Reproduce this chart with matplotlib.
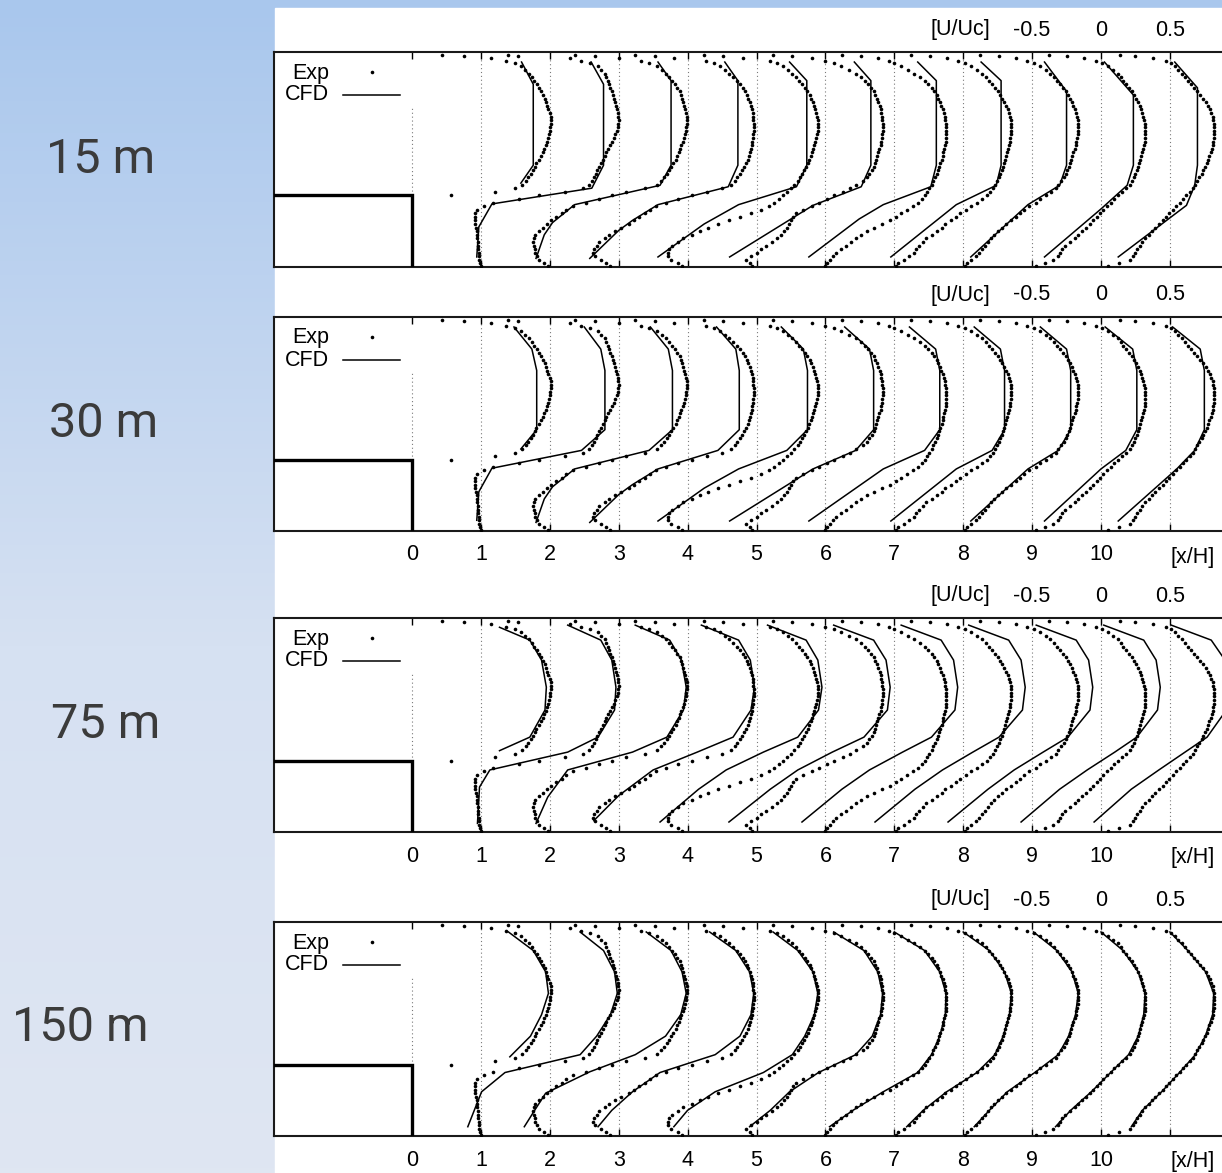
import numpy as np
import matplotlib.pyplot as plt
from matplotlib.patches import Rectangle

W, H = 1222, 1173

# ---- data -------------------------------------------------------------
grid_labels = ["15 m", "30 m", "75 m", "150 m"]
stations = list(range(11))          # profile positions x/H
x_ticks = list(range(0, 11))
u_tick_labels = ["-0.5", "0", "0.5"]
u_tick_pos = [9, 10, 11]            # U/Uc = -0.5, 0, 0.5 around station 10
u_scale = 2.0                       # 0.5 U/Uc = 1 x/H

exp_heights = [0.02, 0.05, 0.10, 0.15, 0.20, 0.25, 0.30, 0.35, 0.40, 0.45,
               0.50, 0.55, 0.60, 0.65, 0.70, 0.75, 0.80, 0.85, 0.90, 0.95,
               1.00, 1.05, 1.10, 1.15, 1.20, 1.25, 1.30, 1.35, 1.40, 1.45,
               1.50, 1.55, 1.60, 1.65, 1.70, 1.75, 1.80, 1.85, 1.90, 1.95,
               2.00, 2.05, 2.10, 2.15, 2.20, 2.25, 2.30, 2.35, 2.40, 2.45,
               2.50, 2.55, 2.60, 2.65, 2.70, 2.75, 2.80, 2.85, 2.88, 2.91,
               2.94, 2.96]

N = None
exp_u_st0 = [N, N, N, N, N, N, N, N, N, N,
             N, N, N, N, N, N, N, N, N, N,
             0.28, 0.60, 0.75, 0.795, 0.825, 0.845, 0.862, 0.878, 0.89, 0.90,
             0.918, 0.935, 0.948, 0.96, 0.97, 0.978, 0.985, 0.995, 1.0, 1.005,
             1.01, 1.01, 1.008, 1.0, 0.99, 0.98, 0.973, 0.963, 0.95, 0.937,
             0.922, 0.905, 0.888, 0.868, 0.848, 0.82, 0.79, 0.745, 0.685, 0.57,
             0.38, 0.22]
exp_u_st1 = [0.0, -0.005, -0.012, -0.015, -0.015, -0.018, -0.02, -0.022, -0.025, -0.028,
             -0.03, -0.035, -0.04, -0.042, -0.042, -0.04, -0.03, 0.02, 0.09, 0.28,
             0.42, 0.61, 0.74, 0.785, 0.805, 0.82, 0.835, 0.845, 0.86, 0.872,
             0.885, 0.898, 0.91, 0.925, 0.94, 0.952, 0.965, 0.975, 0.985, 0.993,
             0.998, 1.0, 0.998, 0.993, 0.988, 0.98, 0.975, 0.968, 0.96, 0.95,
             0.94, 0.93, 0.92, 0.91, 0.90, 0.875, 0.85, 0.79, 0.73, 0.645,
             0.27, 0.195]
exp_u_st2 = [-0.015, -0.04, -0.08, -0.095, -0.105, -0.11, -0.115, -0.12, -0.115, -0.105,
             -0.08, -0.05, -0.02, 0.01, 0.045, 0.085, 0.12, 0.165, 0.26, 0.36,
             0.45, 0.555, 0.69, 0.775, 0.805, 0.83, 0.85, 0.865, 0.88, 0.895,
             0.915, 0.925, 0.935, 0.945, 0.955, 0.965, 0.975, 0.98, 0.988, 0.992,
             0.995, 0.995, 0.993, 0.99, 0.983, 0.975, 0.968, 0.96, 0.952, 0.942,
             0.925, 0.908, 0.89, 0.866, 0.845, 0.815, 0.78, 0.72, 0.66, 0.50,
             0.33, 0.18]
exp_u_st3 = [-0.065, -0.09, -0.13, -0.17, -0.19, -0.18, -0.16, -0.14, -0.10, -0.07,
             -0.03, 0.02, 0.075, 0.11, 0.15, 0.19, 0.23, 0.27, 0.34, 0.43,
             0.53, 0.64, 0.75, 0.815, 0.845, 0.862, 0.88, 0.895, 0.91, 0.925,
             0.937, 0.945, 0.952, 0.96, 0.965, 0.97, 0.975, 0.978, 0.98, 0.98,
             0.98, 0.978, 0.975, 0.972, 0.965, 0.958, 0.95, 0.94, 0.93, 0.918,
             0.90, 0.878, 0.855, 0.83, 0.80, 0.77, 0.735, 0.69, 0.635, 0.40,
             0.26, 0.12]
exp_u_st4 = [-0.04, -0.07, -0.12, -0.14, -0.145, -0.135, -0.11, -0.07, -0.03, 0.03,
             0.09, 0.15, 0.22, 0.30, 0.38, 0.46, 0.53, 0.59, 0.63, 0.665,
             0.69, 0.72, 0.75, 0.775, 0.80, 0.815, 0.83, 0.845, 0.86, 0.872,
             0.883, 0.893, 0.903, 0.912, 0.92, 0.928, 0.935, 0.94, 0.943, 0.945,
             0.945, 0.943, 0.94, 0.935, 0.928, 0.92, 0.91, 0.898, 0.885, 0.87,
             0.85, 0.83, 0.808, 0.785, 0.76, 0.73, 0.695, 0.65, 0.60, 0.40,
             0.26, 0.12]
exp_u_st5 = [-0.03, -0.05, -0.075, -0.04, 0.0, 0.03, 0.07, 0.11, 0.15, 0.18,
             0.20, 0.22, 0.235, 0.25, 0.265, 0.29, 0.34, 0.40, 0.455, 0.51,
             0.565, 0.63, 0.68, 0.725, 0.775, 0.805, 0.82, 0.838, 0.85, 0.86,
             0.868, 0.876, 0.884, 0.892, 0.90, 0.906, 0.91, 0.913, 0.915, 0.916,
             0.915, 0.913, 0.91, 0.905, 0.90, 0.893, 0.883, 0.872, 0.862, 0.85,
             0.83, 0.808, 0.785, 0.76, 0.72, 0.67, 0.61, 0.565, 0.50, 0.40,
             0.26, 0.12]
exp_u_st6 = [0.0, 0.015, 0.035, 0.055, 0.08, 0.11, 0.15, 0.185, 0.22, 0.26,
             0.30, 0.355, 0.41, 0.47, 0.51, 0.55, 0.59, 0.635, 0.675, 0.70,
             0.72, 0.74, 0.755, 0.77, 0.782, 0.795, 0.808, 0.818, 0.827, 0.835,
             0.843, 0.85, 0.857, 0.863, 0.868, 0.872, 0.874, 0.875, 0.875, 0.875,
             0.874, 0.871, 0.866, 0.86, 0.85, 0.84, 0.83, 0.82, 0.808, 0.79,
             0.77, 0.745, 0.72, 0.69, 0.645, 0.60, 0.545, 0.50, 0.46, 0.38,
             0.26, 0.12]
exp_u_st7 = [0.01, 0.025, 0.07, 0.11, 0.14, 0.16, 0.18, 0.205, 0.23, 0.275,
             0.31, 0.345, 0.37, 0.41, 0.445, 0.48, 0.52, 0.56, 0.60, 0.64,
             0.67, 0.695, 0.715, 0.73, 0.745, 0.757, 0.768, 0.778, 0.787, 0.796,
             0.805, 0.813, 0.82, 0.827, 0.833, 0.838, 0.843, 0.847, 0.85, 0.85,
             0.849, 0.846, 0.84, 0.832, 0.822, 0.81, 0.797, 0.783, 0.767, 0.75,
             0.73, 0.71, 0.687, 0.662, 0.635, 0.60, 0.56, 0.51, 0.46, 0.38,
             0.26, 0.12]
exp_u_st8 = [0.01, 0.03, 0.06, 0.09, 0.115, 0.14, 0.16, 0.18, 0.20, 0.225,
             0.255, 0.285, 0.31, 0.345, 0.38, 0.415, 0.44, 0.48, 0.525, 0.56,
             0.60, 0.64, 0.67, 0.69, 0.71, 0.728, 0.743, 0.755, 0.765, 0.775,
             0.784, 0.792, 0.80, 0.808, 0.815, 0.822, 0.828, 0.832, 0.835, 0.835,
             0.834, 0.831, 0.826, 0.82, 0.81, 0.80, 0.788, 0.775, 0.76, 0.743,
             0.725, 0.705, 0.684, 0.66, 0.632, 0.60, 0.56, 0.515, 0.465, 0.38,
             0.26, 0.12]
exp_u_st9 = [0.03, 0.09, 0.15, 0.185, 0.205, 0.22, 0.24, 0.275, 0.31, 0.335,
             0.365, 0.39, 0.42, 0.445, 0.47, 0.49, 0.515, 0.545, 0.57, 0.595,
             0.62, 0.65, 0.68, 0.71, 0.727, 0.74, 0.75, 0.762, 0.77, 0.778,
             0.786, 0.793, 0.80, 0.806, 0.812, 0.816, 0.818, 0.82, 0.82, 0.82,
             0.818, 0.815, 0.808, 0.80, 0.79, 0.78, 0.77, 0.757, 0.742, 0.725,
             0.705, 0.683, 0.662, 0.645, 0.625, 0.59, 0.55, 0.505, 0.465, 0.38,
             0.25, 0.12]
exp_u_st10 = [0.05, 0.13, 0.21, 0.23, 0.245, 0.262, 0.283, 0.30, 0.32, 0.345,
              0.37, 0.395, 0.42, 0.45, 0.475, 0.495, 0.52, 0.545, 0.57, 0.595,
              0.62, 0.645, 0.665, 0.685, 0.70, 0.713, 0.73, 0.742, 0.755, 0.767,
              0.777, 0.787, 0.795, 0.803, 0.81, 0.815, 0.818, 0.82, 0.82, 0.82,
              0.818, 0.815, 0.81, 0.80, 0.792, 0.78, 0.76, 0.74, 0.72, 0.70,
              0.672, 0.65, 0.63, 0.612, 0.585, 0.56, 0.535, 0.505, 0.47, 0.38,
              0.25, 0.14]
exp_u = [exp_u_st0, exp_u_st1, exp_u_st2, exp_u_st3, exp_u_st4, exp_u_st5,
         exp_u_st6, exp_u_st7, exp_u_st8, exp_u_st9, exp_u_st10]

# CFD polylines: heights and U/Uc per station
cfd15_y = [[1.17, 1.42, 2.55, 2.86],
           [0.14, 0.56, 0.88, 1.10, 1.42, 2.55, 2.86],
           [0.12, 0.45, 0.62, 0.87, 1.14, 1.42, 2.60, 2.86],
           [0.12, 0.51, 0.65, 0.87, 1.12, 1.42, 2.60, 2.86],
           [0.14, 0.60, 0.87, 1.12, 1.42, 2.60, 2.86],
           [0.14, 0.86, 1.12, 1.42, 2.60, 2.86],
           [0.14, 0.67, 0.87, 1.12, 1.42, 2.60, 2.86],
           [0.14, 0.87, 1.14, 1.42, 2.60, 2.86],
           [0.14, 0.87, 1.14, 1.42, 2.45, 2.86],
           [0.14, 0.81, 1.14, 1.42, 2.40, 2.86],
           [0.14, 0.86, 1.14, 1.42, 2.50, 2.86]]
cfd15_u = [[0.79, 0.88, 0.88, 0.795],
           [-0.03, -0.015, 0.08, 0.805, 0.89, 0.89, 0.80],
           [-0.10, -0.04, 0.02, 0.18, 0.80, 0.88, 0.88, 0.785],
           [-0.21, 0.0, 0.10, 0.285, 0.795, 0.865, 0.865, 0.77],
           [-0.215, 0.12, 0.37, 0.79, 0.865, 0.865, 0.74],
           [-0.195, 0.41, 0.76, 0.83, 0.83, 0.71],
           [-0.12, 0.245, 0.42, 0.765, 0.805, 0.805, 0.67],
           [-0.025, 0.45, 0.74, 0.775, 0.775, 0.63],
           [0.055, 0.47, 0.70, 0.75, 0.75, 0.59],
           [0.09, 0.50, 0.69, 0.735, 0.735, 0.525],
           [0.125, 0.62, 0.68, 0.70, 0.70, 0.535]]

cfd30_y = [[1.15, 1.42, 2.25, 2.55, 2.86],
           [0.15, 0.55, 0.88, 1.13, 1.42, 2.25, 2.55, 2.86],
           [0.12, 0.45, 0.62, 0.87, 1.13, 1.42, 2.25, 2.55, 2.86],
           [0.12, 0.51, 0.65, 0.87, 1.13, 1.42, 2.25, 2.55, 2.86],
           [0.14, 0.60, 0.87, 1.13, 1.42, 2.25, 2.55, 2.86],
           [0.14, 0.87, 1.13, 1.42, 2.25, 2.55, 2.86],
           [0.14, 0.87, 1.13, 1.42, 2.25, 2.55, 2.86],
           [0.14, 0.87, 1.13, 1.42, 2.25, 2.55, 2.86],
           [0.14, 0.87, 1.13, 1.42, 2.25, 2.55, 2.86],
           [0.14, 0.87, 1.13, 1.42, 2.25, 2.55, 2.86],
           [0.14, 0.87, 1.13, 1.42, 2.25, 2.55, 2.86]]
cfd30_u = [[0.79, 0.905, 0.905, 0.87, 0.74],
           [-0.03, -0.015, 0.08, 0.73, 0.90, 0.90, 0.87, 0.75],
           [-0.10, -0.04, 0.02, 0.18, 0.72, 0.89, 0.89, 0.86, 0.73],
           [-0.21, 0.0, 0.10, 0.285, 0.72, 0.875, 0.875, 0.85, 0.71],
           [-0.215, 0.12, 0.37, 0.72, 0.87, 0.87, 0.84, 0.68],
           [-0.195, 0.41, 0.72, 0.85, 0.85, 0.82, 0.64],
           [-0.12, 0.42, 0.72, 0.83, 0.83, 0.80, 0.61],
           [-0.025, 0.45, 0.71, 0.80, 0.80, 0.77, 0.58],
           [0.055, 0.47, 0.69, 0.78, 0.78, 0.75, 0.56],
           [0.09, 0.50, 0.68, 0.76, 0.76, 0.73, 0.53],
           [0.125, 0.55, 0.68, 0.75, 0.75, 0.72, 0.52]]

cfd75_y = [[1.14, 1.33, 1.71, 2.03, 2.41, 2.69, 2.87],
           [0.12, 0.63, 0.87, 1.12, 1.33, 1.71, 2.03, 2.41, 2.69, 2.90],
           [0.12, 0.49, 0.87, 1.12, 1.33, 1.71, 2.03, 2.41, 2.69, 2.90],
           [0.16, 0.51, 0.87, 1.12, 1.33, 1.71, 2.03, 2.41, 2.69, 2.90],
           [0.14, 0.60, 0.87, 1.12, 1.33, 1.71, 2.03, 2.41, 2.69, 2.90],
           [0.14, 0.60, 0.87, 1.12, 1.33, 1.71, 2.03, 2.41, 2.69, 2.90],
           [0.14, 0.60, 0.87, 1.12, 1.33, 1.71, 2.03, 2.41, 2.69, 2.90],
           [0.14, 0.60, 0.87, 1.12, 1.33, 1.71, 2.03, 2.41, 2.69, 2.90],
           [0.14, 0.60, 0.87, 1.12, 1.33, 1.71, 2.03, 2.41, 2.69, 2.90],
           [0.14, 0.60, 0.87, 1.12, 1.33, 1.71, 2.03, 2.41, 2.69, 2.90],
           [0.14, 0.60, 0.87, 1.12, 1.33, 1.71, 2.03, 2.41, 2.69, 2.90]]
cfd75_u = [[0.635, 0.855, 0.965, 0.975, 0.94, 0.855, 0.635],
           [-0.025, -0.01, 0.065, 0.63, 0.85, 0.97, 0.98, 0.95, 0.87, 0.63],
           [-0.10, -0.015, 0.13, 0.60, 0.85, 0.97, 0.99, 0.955, 0.87, 0.62],
           [-0.18, 0.0, 0.25, 0.57, 0.83, 0.96, 0.985, 0.955, 0.87, 0.60],
           [-0.20, 0.08, 0.28, 0.55, 0.80, 0.95, 0.975, 0.945, 0.86, 0.58],
           [-0.20, 0.10, 0.30, 0.55, 0.78, 0.95, 0.97, 0.94, 0.85, 0.56],
           [-0.17, 0.12, 0.32, 0.56, 0.77, 0.94, 0.96, 0.93, 0.84, 0.55],
           [-0.14, 0.15, 0.35, 0.57, 0.76, 0.93, 0.95, 0.92, 0.83, 0.54],
           [-0.11, 0.18, 0.37, 0.58, 0.76, 0.92, 0.94, 0.91, 0.82, 0.53],
           [-0.08, 0.20, 0.40, 0.60, 0.76, 0.91, 0.93, 0.90, 0.81, 0.52],
           [-0.05, 0.22, 0.42, 0.61, 0.77, 0.91, 0.93, 0.90, 0.80, 0.51]]

cfd150_y = [[1.11, 1.40, 1.70, 2.00, 2.30, 2.60, 2.86],
            [0.13, 0.62, 0.89, 1.14, 1.40, 1.70, 2.00, 2.30, 2.60, 2.86],
            [0.13, 0.36, 0.60, 0.90, 1.14, 1.40, 1.70, 2.00, 2.30, 2.60, 2.86],
            [0.13, 0.36, 0.62, 0.89, 1.14, 1.40, 1.70, 2.00, 2.30, 2.60, 2.86],
            [0.13, 0.36, 0.62, 0.89, 1.14, 1.40, 1.70, 2.00, 2.30, 2.60, 2.86],
            [0.13, 0.36, 0.62, 0.89, 1.14, 1.40, 1.70, 2.00, 2.30, 2.60, 2.86],
            [0.13, 0.36, 0.62, 0.89, 1.14, 1.40, 1.70, 2.00, 2.30, 2.60, 2.86],
            [0.13, 0.36, 0.62, 0.89, 1.14, 1.40, 1.70, 2.00, 2.30, 2.60, 2.86],
            [0.13, 0.36, 0.62, 0.89, 1.14, 1.40, 1.70, 2.00, 2.30, 2.60, 2.86],
            [0.13, 0.36, 0.62, 0.89, 1.14, 1.40, 1.70, 2.00, 2.30, 2.60, 2.86],
            [0.13, 0.36, 0.62, 0.89, 1.14, 1.40, 1.70, 2.00, 2.30, 2.60, 2.86]]
cfd150_u = [[0.71, 0.86, 0.94, 0.99, 0.97, 0.88, 0.70],
            [-0.095, 0.005, 0.175, 0.72, 0.84, 0.94, 0.99, 0.97, 0.89, 0.72],
            [-0.185, -0.11, -0.03, 0.29, 0.62, 0.84, 0.95, 0.99, 0.96, 0.88, 0.70],
            [-0.15, -0.05, 0.10, 0.30, 0.70, 0.88, 0.96, 0.98, 0.95, 0.85, 0.66],
            [-0.10, 0.0, 0.20, 0.55, 0.76, 0.85, 0.92, 0.945, 0.91, 0.80, 0.62],
            [-0.05, 0.10, 0.24, 0.45, 0.72, 0.84, 0.90, 0.915, 0.88, 0.78, 0.56],
            [0.03, 0.20, 0.42, 0.67, 0.77, 0.83, 0.87, 0.875, 0.83, 0.72, 0.50],
            [0.09, 0.21, 0.38, 0.60, 0.73, 0.79, 0.835, 0.85, 0.80, 0.69, 0.50],
            [0.08, 0.19, 0.32, 0.52, 0.69, 0.765, 0.815, 0.835, 0.79, 0.68, 0.51],
            [0.17, 0.28, 0.43, 0.57, 0.70, 0.77, 0.81, 0.82, 0.77, 0.66, 0.50],
            [0.22, 0.30, 0.44, 0.57, 0.685, 0.757, 0.81, 0.818, 0.76, 0.63, 0.50]]

cfd_y = [cfd15_y, cfd30_y, cfd75_y, cfd150_y]
cfd_u = [cfd15_u, cfd30_u, cfd75_u, cfd150_u]

# ---- layout (pixels) ---------------------------------------------------
panel_top = [52, 317, 618, 922]
panel_bot = [267, 531, 832, 1136]
x0_px, px_per_unit = 412.0, 68.9
xlim = (-2, 12)
label_pos = [(101, 160), (104, 424), (106, 725), (80, 1028)]

plt.rcParams['font.family'] = ['Liberation Sans', 'DejaVu Sans']
fig = plt.figure(figsize=(W / 100, H / 100), dpi=100)

# background: blue gradient with white plotting area
bg = fig.add_axes([0, 0, 1, 1])
bg.set_xlim(0, W)
bg.set_ylim(H, 0)
bg.axis('off')
t = np.linspace(0, 1, 256)
c_top = np.array([169, 199, 237]) / 255
c_mid = np.array([214, 225, 242]) / 255
c_bot = np.array([223, 230, 242]) / 255
w = np.clip(t / 0.55, 0, 1)[:, None]
cols = np.where(t[:, None] < 0.55, c_top * (1 - w) + c_mid * w,
                c_mid + (c_bot - c_mid) * ((t[:, None] - 0.55) / 0.45))
bg.imshow(np.repeat(cols[:, None, :], 4, axis=1), extent=(0, W, H, 0), aspect='auto', zorder=0)
bg.add_patch(Rectangle((275, 8), W - 275, H - 8, color='white', zorder=1))
for lab, (lx, ly) in zip(grid_labels, label_pos):
    bg.text(lx, ly, lab, fontsize=35, color='#3b3b3b', family='Roboto',
            ha='center', va='center', zorder=2)

FS = 15.5
DOT = 2.6
for i in range(4):
    top, bot = panel_top[i], panel_bot[i]
    left_px = x0_px + xlim[0] * px_per_unit
    width_px = (xlim[1] - xlim[0]) * px_per_unit
    ax = fig.add_axes([left_px / W, 1 - bot / H, width_px / W, (bot - top) / H])
    ax.set_facecolor('none')
    ax.set_xlim(*xlim)
    ax.set_ylim(0, 3)
    yu = (bot - top) / 3.0  # px per unit height

    for sp in ax.spines.values():
        sp.set_linewidth(1.5)
        sp.set_color('#1a1a1a')
    ax.set_xticks(range(0, 12))
    ax.set_yticks([])
    ax.tick_params(axis='x', direction='in', top=True, bottom=True,
                   length=5, width=1.0, labelbottom=False, labeltop=False)

    # dotted reference lines
    ax.vlines(stations[1:] + [11], 0, 3, colors='#7a7a7a', linewidth=0.8,
              linestyles=(0, (1, 2.5)), zorder=1)
    ax.vlines([0], 1, 2.23, colors='#7a7a7a', linewidth=0.8,
              linestyles=(0, (1, 2.5)), zorder=1)

    # building
    ax.plot([-2.5, 0, 0], [1, 1, 0], color='black', linewidth=2.4,
            solid_joinstyle='miter', clip_on=True, zorder=3)

    # experiment dots
    for s in stations:
        u = np.array(exp_u[s], dtype=float)
        ax.plot(s + u_scale * u, exp_heights, 'o', ms=DOT, color='black',
                mec='none', zorder=4)
    # CFD lines
    for s in stations:
        ax.plot(s + u_scale * np.array(cfd_u[i][s]), cfd_y[i][s],
                color='black', linewidth=1.1, zorder=4)

    # legend
    ax.text(-1.205, 3 - 21 / yu, 'Exp', fontsize=FS, ha='right', va='center')
    ax.text(-1.205, 3 - 43 / yu, 'CFD', fontsize=FS, ha='right', va='center')
    ax.plot([-0.58], [3 - 20 / yu], 'o', ms=DOT, color='black', mec='none')
    ax.plot([-1.0, -0.174], [3 - 43 / yu] * 2, color='black', linewidth=1.1)

    # top velocity scale
    ax.text(7.96, 3 + 22 / yu, '[U/Uc]', fontsize=FS, ha='center', va='center', clip_on=False)
    for lab, xp in zip(u_tick_labels, u_tick_pos):
        ax.text(xp, 3 + 22 / yu, lab, fontsize=FS, ha='center', va='center', clip_on=False)

    # bottom x/H labels (not on the first panel)
    if i > 0:
        for xt in x_ticks:
            ax.text(xt, -24 / yu, str(xt), fontsize=FS, ha='center', va='center', clip_on=False)
        ax.text(11.33, -26 / yu, '[x/H]', fontsize=FS, ha='center', va='center', clip_on=False)

fig.savefig('out.png', dpi=100)
